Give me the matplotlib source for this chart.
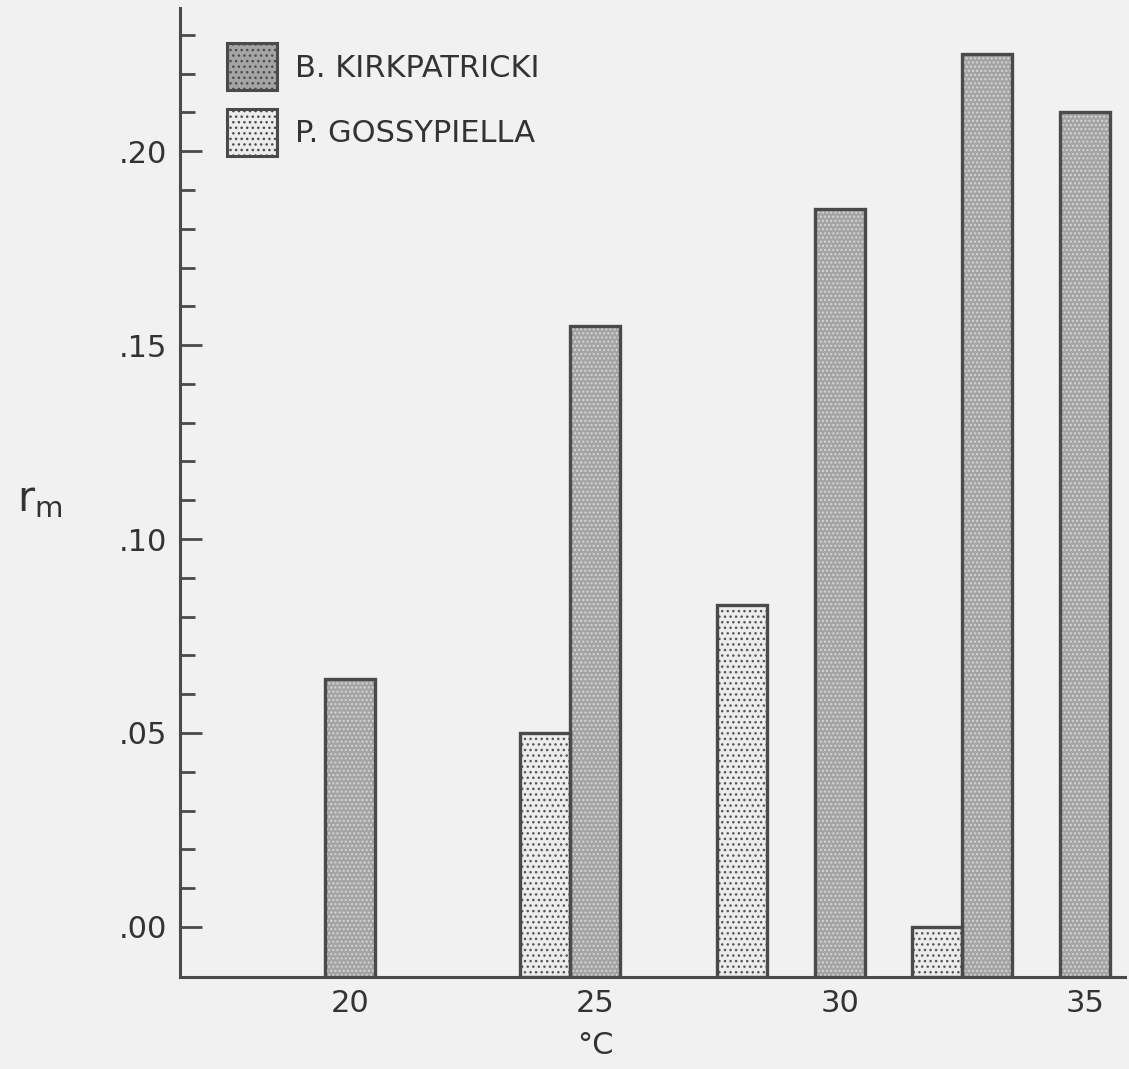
import matplotlib
matplotlib.use("Agg")
import matplotlib.pyplot as plt
from matplotlib.patches import Patch

# r_m by temperature for the two species
kirk_temp = [20, 25, 30, 33, 35]
kirk_rm = [0.064, 0.155, 0.185, 0.225, 0.210]

goss_temp = [25, 28, 33]
goss_rm = [0.050, 0.083, 0.000]

xtick_vals = [20, 25, 30, 35]
ytick_vals = [0.00, 0.05, 0.10, 0.15, 0.20]
ytick_labels = [".00", ".05", ".10", ".15", ".20"]

plt.rcParams['font.family'] = ['DejaVu Sans']

bg = '#f1f1f1'
ink = '#4a4a4a'
txt = '#333333'
y0 = -0.0129          # bars rise from the bottom of the axis
bw = 1.02             # bar width in degrees

kirk_face, kirk_hatch, kirk_hc = '#a4a4a4', '....', '#d6d6d6'
goss_face, goss_hatch, goss_hc = '#ececec', '...', '#555555'

fig = plt.figure(figsize=(11.29, 10.69), dpi=100, facecolor=bg)
ax = fig.add_axes([0.1594, 0.0861, 0.8371, 0.9064])
ax.set_facecolor(bg)

def draw_bars(xs, vals, face, hatch, hcolor):
    h = [v - y0 for v in vals]
    ax.bar(xs, h, bottom=y0, width=bw, color=face, linewidth=0, zorder=2)
    ax.bar(xs, h, bottom=y0, width=bw, color='none', edgecolor=hcolor,
           hatch=hatch, linewidth=0, zorder=3)
    ax.bar(xs, h, bottom=y0, width=bw, color='none', edgecolor=ink,
           linewidth=2.4, zorder=4)

# paired temperatures put the pink bollworm bar just left of the other one
goss_x = [t - bw if t in kirk_temp else t for t in goss_temp]

draw_bars(kirk_temp, kirk_rm, kirk_face, kirk_hatch, kirk_hc)
draw_bars(goss_x, goss_rm, goss_face, goss_hatch, goss_hc)

ax.set_xlim(16.53, 35.82)
ax.set_ylim(y0, 0.2369)

for s in ['top', 'right']:
    ax.spines[s].set_visible(False)
for s in ['left', 'bottom']:
    ax.spines[s].set_color(ink)
    ax.spines[s].set_linewidth(2.2)

ax.set_yticks(ytick_vals)
ax.set_yticklabels(ytick_labels)
ax.set_yticks([i / 100 for i in range(0, 24)], minor=True)
ax.tick_params(axis='y', which='major', direction='in', length=16, width=2,
               color=ink, labelsize=22, labelcolor=txt, pad=9)
ax.tick_params(axis='y', which='minor', direction='in', length=11, width=2,
               color=ink)

ax.set_xticks(xtick_vals)
ax.set_xticklabels([str(t) for t in xtick_vals])
ax.tick_params(axis='x', length=0, labelsize=22, labelcolor=txt, pad=9)

fig.text(595 / 1129, 1 - 1045 / 1069, '°C', fontsize=22, color=txt,
         ha='center', va='center')
ax.set_ylabel(r'$\mathregular{r_m}$', fontsize=30, color=txt, rotation=0)
ax.yaxis.set_label_coords(-0.148, 0.472)

handles = [
    Patch(facecolor=kirk_face, edgecolor=ink, hatch='...', linewidth=2.2),
    Patch(facecolor=goss_face, edgecolor=ink, hatch='...', linewidth=2.2),
]
leg = ax.legend(handles, ['B. KIRKPATRICKI', 'P. GOSSYPIELLA'],
                loc='upper left', bbox_to_anchor=(0.021, 0.992),
                frameon=False, fontsize=22, handlelength=1.63,
                handleheight=2.0, labelspacing=0.6, handletextpad=0.6,
                labelcolor=txt)

fig.savefig('out.png', dpi=100, facecolor=bg)
